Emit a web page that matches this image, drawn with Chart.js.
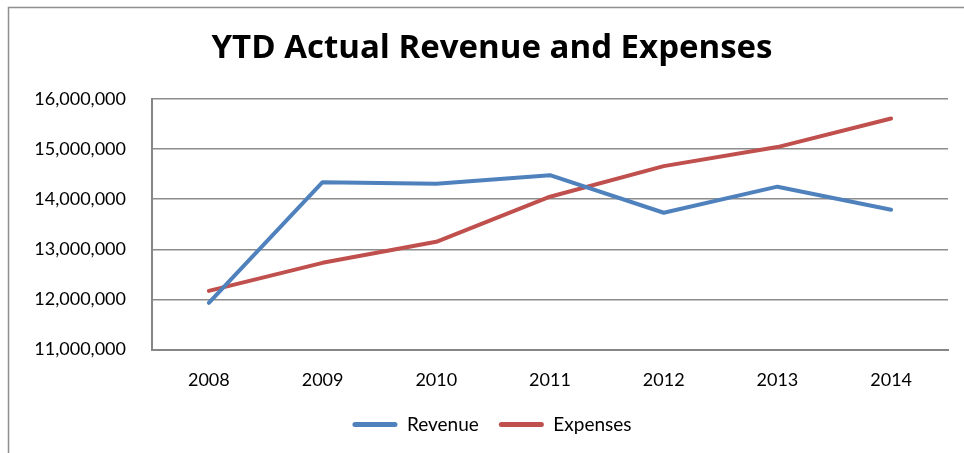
<!DOCTYPE html>
<html>
<head>
<meta charset="utf-8">
<script src="https://cdn.jsdelivr.net/npm/chart.js@4"></script>
<style>
  html, body { margin: 0; padding: 0; background: #fff; overflow: hidden; }
  #wrap { position: absolute; left: 0; top: 0; width: 964px; height: 453px; }
</style>
</head>
<body>
<div id="wrap"><canvas id="c"></canvas></div>
<script>
const years = ['2008', '2009', '2010', '2011', '2012', '2013', '2014'];
const revenue = [11930000, 14340000, 14310000, 14480000, 13730000, 14250000, 13790000];
const expenses = [12170000, 12730000, 13150000, 14050000, 14660000, 15040000, 15610000];
const yTicks = [11000000, 12000000, 13000000, 14000000, 15000000, 16000000];
const titleText = 'YTD Actual Revenue and Expenses';

const FONT = 'Lato, "Open Sans", "Liberation Sans", sans-serif';
const TITLE_FONT = '"Open Sans", Lato, "Liberation Sans", sans-serif';

const frame = {
  id: 'frame',
  beforeDraw(chart) {
    const ctx = chart.ctx;
    ctx.save();
    ctx.strokeStyle = '#8f8f8f';
    ctx.lineWidth = 1.5;
    ctx.beginPath();
    ctx.moveTo(8.5, 460);
    ctx.lineTo(8.5, 7.5);
    ctx.lineTo(970, 7.5);
    ctx.stroke();
    ctx.restore();
  }
};

new Chart(document.getElementById('c'), {
  type: 'line',
  data: {
    labels: years,
    datasets: [
      { label: 'Revenue', data: revenue, borderColor: '#4F81BD', backgroundColor: '#4F81BD',
        borderWidth: 4, pointRadius: 0, tension: 0, borderCapStyle: 'round', borderJoinStyle: 'round' },
      { label: 'Expenses', data: expenses, borderColor: '#C0504D', backgroundColor: '#C0504D',
        borderWidth: 4, pointRadius: 0, tension: 0, borderCapStyle: 'round', borderJoinStyle: 'round' }
    ]
  },
  options: {
    responsive: true,
    maintainAspectRatio: false,
    animation: false,
    layout: { padding: { left: 36, right: 16, top: 0, bottom: 9 } },
    plugins: {
      title: {
        display: true, text: titleText, color: '#000',
        font: { family: TITLE_FONT, size: 33, weight: 'bold', lineHeight: 1.2 },
        padding: { top: 29.2, bottom: 30.2 }
      },
      legend: {
        position: 'bottom',
        labels: {
          color: '#000', font: { family: FONT, size: 19 },
          boxWidth: 45, boxHeight: 5, padding: 20, useBorderRadius: true, borderRadius: 2.5,
          generateLabels(chart) {
            return chart.data.datasets.map((ds, i) => ({
              text: ds.label, fillStyle: ds.borderColor, strokeStyle: ds.borderColor,
              lineWidth: 0, hidden: false, datasetIndex: i, borderRadius: 2.5, fontColor: '#000'
            }));
          }
        }
      },
      tooltip: { enabled: false }
    },
    scales: {
      x: {
        offset: true,
        grid: { display: false, drawTicks: false },
        border: { display: true, color: '#868686', width: 2 },
        ticks: { color: '#000', font: { family: FONT, size: 18 }, padding: 20, maxRotation: 0 },
        afterFit(s) { s.height = 45.5; }
      },
      y: {
        min: 11000000, max: 16000000,
        grid: { color: '#8c8c8c', lineWidth: 1.5, drawTicks: false },
        border: { display: true, color: '#868686', width: 2 },
        afterBuildTicks(s) { s.ticks = yTicks.map(v => ({ value: v })); },
        ticks: {
          color: '#000', font: { family: FONT, size: 18 }, padding: 26,
          callback: v => Number(v).toLocaleString('en-US')
        },
        afterFit(s) { s.width = 116; }
      }
    }
  },
  plugins: [frame]
});
</script>
</body>
</html>
